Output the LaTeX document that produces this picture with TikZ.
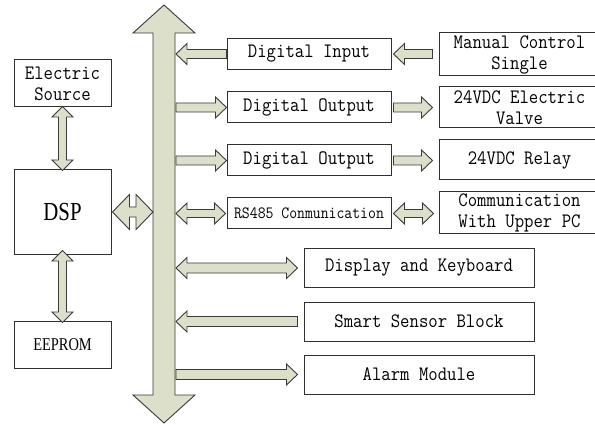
\documentclass[tikz,border=0pt]{standalone}
\usepackage{fontspec}
\usetikzlibrary{calc}
\newfontfamily\boxfont[FakeStretch=0.89]{Latin Modern Mono}
\newfontfamily\serfont[FakeStretch=0.8]{Liberation Serif}
\definecolor{arrowfill}{HTML}{DCDFC9}
\definecolor{arrowline}{HTML}{3A3A3A}
\definecolor{boxline}{HTML}{303030}

% fat block arrow from #2 to #3: #4 shaft half width, #5 head half width, #6 head length
% #1 = 1 (head at the end) or 2 (heads at both ends)
\newcommand\fatarrow[6]{%
  \ifnum#1=2
  \draw[blockarrow] let \p1=#2, \p2=#3,
     \n1={veclen(\x2-\x1,\y2-\y1)}, \n2={(\x2-\x1)/\n1}, \n3={(\y2-\y1)/\n1} in
     (\p1)
     -- ({\x1+(#6pt)*\n2-(#5pt)*\n3},{\y1+(#6pt)*\n3+(#5pt)*\n2})
     -- ({\x1+(#6pt)*\n2-(#4pt)*\n3},{\y1+(#6pt)*\n3+(#4pt)*\n2})
     -- ({\x2-(#6pt)*\n2-(#4pt)*\n3},{\y2-(#6pt)*\n3+(#4pt)*\n2})
     -- ({\x2-(#6pt)*\n2-(#5pt)*\n3},{\y2-(#6pt)*\n3+(#5pt)*\n2})
     -- (\p2)
     -- ({\x2-(#6pt)*\n2+(#5pt)*\n3},{\y2-(#6pt)*\n3-(#5pt)*\n2})
     -- ({\x2-(#6pt)*\n2+(#4pt)*\n3},{\y2-(#6pt)*\n3-(#4pt)*\n2})
     -- ({\x1+(#6pt)*\n2+(#4pt)*\n3},{\y1+(#6pt)*\n3-(#4pt)*\n2})
     -- ({\x1+(#6pt)*\n2+(#5pt)*\n3},{\y1+(#6pt)*\n3-(#5pt)*\n2})
     -- cycle;
  \else
  \draw[blockarrow] let \p1=#2, \p2=#3,
     \n1={veclen(\x2-\x1,\y2-\y1)}, \n2={(\x2-\x1)/\n1}, \n3={(\y2-\y1)/\n1} in
     ({\x1-(#4pt)*\n3},{\y1+(#4pt)*\n2})
     -- ({\x2-(#6pt)*\n2-(#4pt)*\n3},{\y2-(#6pt)*\n3+(#4pt)*\n2})
     -- ({\x2-(#6pt)*\n2-(#5pt)*\n3},{\y2-(#6pt)*\n3+(#5pt)*\n2})
     -- (\p2)
     -- ({\x2-(#6pt)*\n2+(#5pt)*\n3},{\y2-(#6pt)*\n3-(#5pt)*\n2})
     -- ({\x2-(#6pt)*\n2+(#4pt)*\n3},{\y2-(#6pt)*\n3-(#4pt)*\n2})
     -- ({\x1+(#4pt)*\n3},{\y1-(#4pt)*\n2})
     -- cycle;
  \fi}

\begin{document}
\begin{tikzpicture}[x=1pt,y=-1pt,
  blockarrow/.style={draw=arrowline,fill=arrowfill,line width=0.9pt,line join=miter},
  unit/.style={draw=boxline,line width=1pt,fill=white,inner sep=0pt,align=center,
    font=\boxfont\fontsize{20.5}{21}\selectfont},
  leftbox/.style={unit,minimum width=97pt},
  midbox/.style={unit,minimum width=164pt,minimum height=31pt},
  farbox/.style={unit,minimum width=161pt},
  lowbox/.style={unit,minimum width=230pt,minimum height=39pt}]

\useasboundingbox[fill=white] (0,0) rectangle (595,425);

% data bus
\coordinate (bustop) at (164,5);
\coordinate (busbot) at (164,423);
\coordinate (busL) at (153,0);
\coordinate (busR) at (176,0);
\fatarrow{2}{(bustop)}{(busbot)}{11}{31}{28}

% processor side
\node[leftbox,minimum height=47pt] (es) at (62.5,83.5) {Electric\\Source};
\node[leftbox,minimum height=84pt,font=\serfont\fontsize{26}{28}\selectfont] (dsp) at (62.5,212) {DSP};
\node[leftbox,minimum height=47pt,font=\serfont\fontsize{18}{20}\selectfont] (eep) at (62.5,344.5) {EEPROM};

\fatarrow{2}{([yshift=1pt]es.south)}{([yshift=-1pt]dsp.north)}{4}{10.5}{10.5}
\fatarrow{2}{([yshift=4pt]dsp.south)}{([yshift=-2pt]eep.north)}{4}{10.5}{10.5}
\fatarrow{2}{([xshift=1pt]dsp.east)}{(dsp.east -| busL)}{5}{17.5}{17}

% I/O modules
\node[midbox] (di) at (309,54) {Digital Input};
\node[midbox] (do1) at (309,107.5) {Digital Output};
\node[midbox] (do2) at (309,160.5) {Digital Output};
\node[midbox,font=\boxfont\fontsize{17.2}{18}\selectfont] (rs) at (309,213.5) {RS485 Conmunication};

\node[farbox,minimum height=43pt] (mc) at (519.5,54.5) {Manual Control\\Single};
\node[farbox,minimum height=41pt] (valve) at (519.5,107.5) {24VDC Electric\\Valve};
\node[farbox,minimum height=40pt] (relay) at (519.5,160) {24VDC Relay};
\node[farbox,minimum height=42pt] (comm) at (519.5,213) {Communication\\With Upper PC};

\node[lowbox] (disp) at (419,268) {Display and Keyboard};
\node[lowbox] (sens) at (419,321.5) {Smart Sensor Block};
\node[lowbox] (alarm) at (419,374.5) {Alarm Module};

% bus to modules
\fatarrow{1}{(di.west)}{(di.west -| busR)}{4.5}{10.5}{11}
\fatarrow{1}{(do1.west -| busR)}{(do1.west)}{4.5}{10.5}{11}
\fatarrow{1}{(do2.west -| busR)}{(do2.west)}{4.5}{10.5}{11}
\fatarrow{2}{(rs.west -| busR)}{([xshift=-1pt]rs.west)}{4}{10.5}{11}

% modules to field devices
\fatarrow{1}{([xshift=-6pt]mc.west |- di.east)}{([xshift=2pt]di.east)}{4.5}{10.5}{11}
\fatarrow{1}{([xshift=2pt]do1.east)}{([xshift=-6pt]valve.west |- do1.east)}{4.5}{10.5}{11}
\fatarrow{1}{([xshift=2pt]do2.east)}{([xshift=-6pt]relay.west |- do2.east)}{4.5}{10.5}{11}
\fatarrow{2}{([xshift=2pt]rs.east)}{([xshift=-5pt]comm.west |- rs.east)}{4}{10.5}{11}

% bus to operator and sensor modules
\fatarrow{2}{(disp.west -| busR)}{([xshift=-6pt]disp.west)}{5}{10.5}{11}
\fatarrow{1}{([xshift=-6pt]sens.west)}{(sens.west -| busR)}{5}{10.5}{11}
\fatarrow{1}{(alarm.west -| busR)}{([xshift=-6pt]alarm.west)}{5}{10.5}{11}
\end{tikzpicture}
\end{document}
